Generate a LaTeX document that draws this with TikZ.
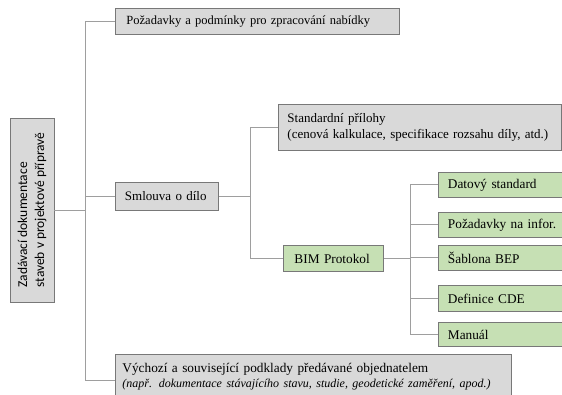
\documentclass[tikz,border=0pt]{standalone}
\usepackage{fontspec}
\setmainfont{Liberation Serif}
\newfontfamily\rootfont{Carlito}
\definecolor{greenfill}{RGB}{198,224,180}
\definecolor{boxline}{RGB}{120,120,120}
\tikzset{
  graybox/.style={draw=boxline, line width=0.9pt, fill=black!15, anchor=north west, inner xsep=11pt, align=left, font=\fontsize{13}{16}\selectfont},
  greenbox/.style={graybox, fill=greenfill, font=\fontsize{13.3}{16}\selectfont},
  conn/.style={draw=black!38, line width=1pt}
}
\begin{document}
\begin{tikzpicture}[x=1pt,y=-1pt]
  \useasboundingbox (0,0) rectangle (562,394);

  % Root
  \node[draw=boxline, line width=0.9pt, fill=black!15, rotate=90, minimum width=184pt, minimum height=44pt, align=left, font=\rootfont\fontsize{13.5}{17}\selectfont] (root) at (32,210) {Zadávací dokumentace\\staveb v projektové přípravě};

  % Level 1
  \node[graybox, minimum height=26pt, text width=262pt, font=\fontsize{12.5}{15}\selectfont] (pozadavky) at (115,8) {Požadavky a podmínky pro zpracování nabídky};
  \node[graybox, minimum height=28pt, text width=84pt, inner xsep=9.5pt] (smlouva) at (115,182) {\mbox{Smlouva o dílo}};
  \node[graybox, minimum height=45pt, text width=382pt, inner xsep=7pt, inner ysep=4pt, font=\fontsize{13.3}{16}\selectfont] (vychozi) at (115,354) {Výchozí a související podklady předávané objednatelem\\[-1pt]{\fontsize{12}{13}\selectfont\itshape (např. dokumentace stávajícího stavu, studie, geodetické zaměření, apod.)}};

  % Level 2
  \node[graybox, minimum height=46pt, text width=265pt, inner xsep=9pt] (prilohy) at (278,104) {Standardní přílohy\\(cenová kalkulace, specifikace rozsahu díly, atd.)};
  \node[greenbox, minimum height=26pt, text width=78pt] (bim) at (283,245) {\mbox{BIM Protokol}};

  % Level 3
  \node[greenbox, minimum height=25pt, text width=106pt, inner xsep=9.5pt] (datovy) at (438,172) {\mbox{Datový standard}};
  \node[greenbox, minimum height=25pt, text width=106pt, inner xsep=9.5pt] (infor) at (438,212) {\mbox{Požadavky na infor.}};
  \node[greenbox, minimum height=25pt, text width=106pt, inner xsep=9.5pt] (sablona) at (438,245) {\mbox{Šablona BEP}};
  \node[greenbox, minimum height=26pt, text width=106pt, inner xsep=9.5pt] (cde) at (438,285) {\mbox{Definice CDE}};
  \node[greenbox, minimum height=24pt, text width=106pt, inner xsep=9.5pt] (manual) at (438,322) {\mbox{Manuál}};

  % Connectors
  \coordinate (t) at (85,210);
  \coordinate (s) at ([xshift=32pt]smlouva.east);
  \coordinate (b) at ([xshift=27pt]bim.east);
  \draw[conn] (root.south) -- (t);
  \draw[conn] (pozadavky.west) -| (t);
  \draw[conn] (smlouva.west) -| (t);
  \draw[conn] ([yshift=-4pt]vychozi.west) -| (t);
  \draw[conn] (smlouva.east) -- (s);
  \draw[conn] (prilohy.west) -| (s);
  \draw[conn] (bim.west) -| (s);
  \draw[conn] (bim.east) -- (b);
  \draw[conn] (datovy.west) -| (b);
  \draw[conn] (infor.west) -| (b);
  \draw[conn] (sablona.west) -| (b);
  \draw[conn] (cde.west) -| (b);
  \draw[conn] (manual.west) -| (b);
\end{tikzpicture}
\end{document}
